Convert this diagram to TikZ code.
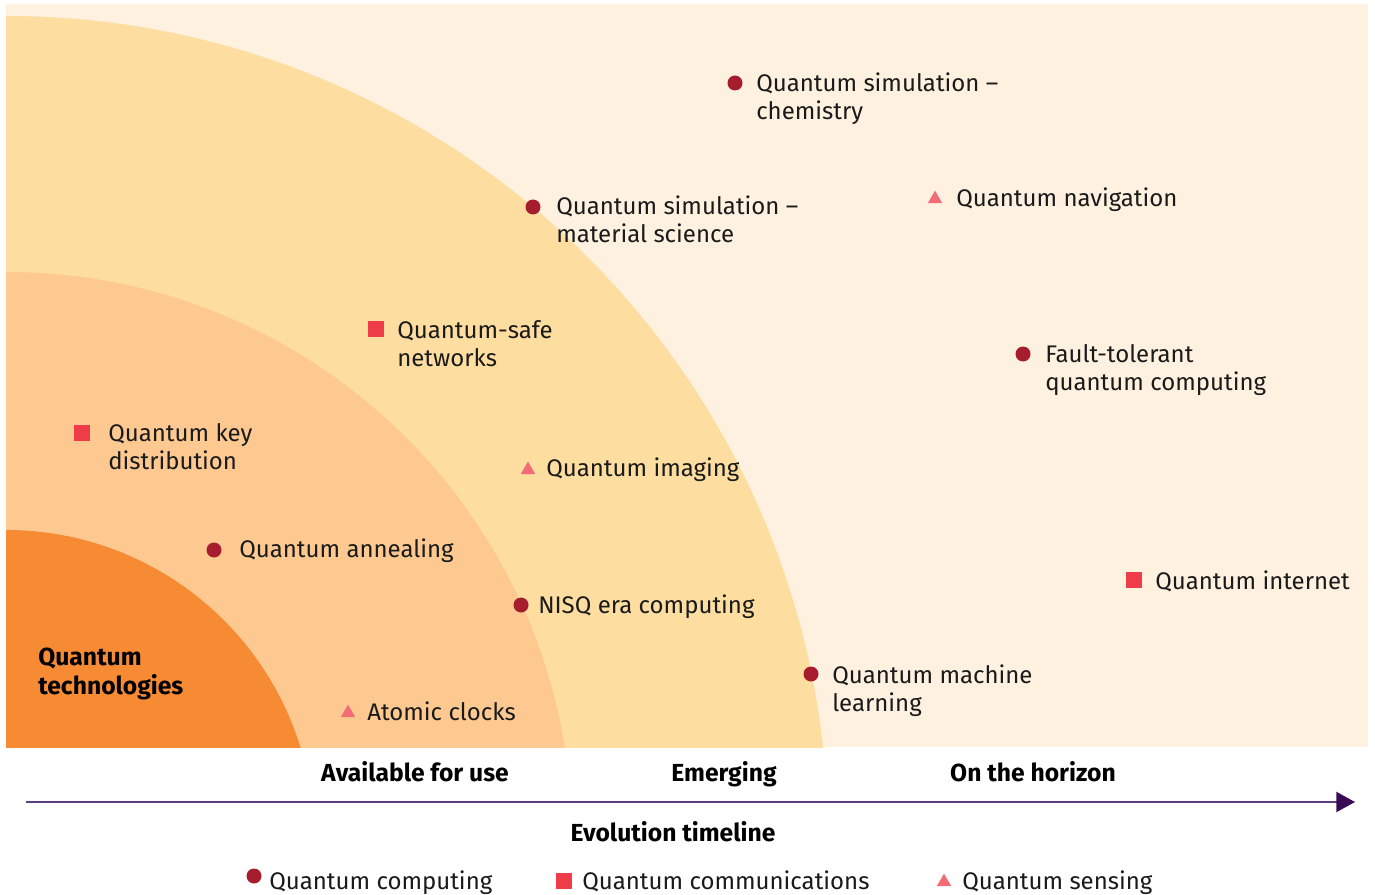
\documentclass[tikz,border=0pt]{standalone}
\usepackage{fontspec}
\setmainfont{Fira Sans}
\usetikzlibrary{arrows.meta,shapes.geometric}
\definecolor{cream}{HTML}{FEF1E0}
\definecolor{bandyellow}{HTML}{FDDDA0}
\definecolor{bandpeach}{HTML}{FDC990}
\definecolor{bandorange}{HTML}{F68B33}
\definecolor{dotred}{HTML}{A61E2D}
\definecolor{sqred}{HTML}{EE3D48}
\definecolor{tripink}{HTML}{F26B76}
\definecolor{axisline}{HTML}{5A3C85}
\definecolor{axistip}{HTML}{3A0B55}
\definecolor{ink}{HTML}{1A1A1A}
\tikzset{
  dotm/.style={circle, fill=dotred, minimum size=11.25pt, inner sep=0pt},
  sqm/.style={rectangle, fill=sqred, minimum size=11.5pt, inner sep=0pt},
  trim/.style={regular polygon, regular polygon sides=3, fill=tripink, minimum size=12.5pt, inner sep=0pt},
  lab/.style={anchor=base west, inner sep=0pt, align=left, text=ink, font=\fontsize{18}{21}\selectfont},
  boldlab/.style={anchor=base, inner sep=0pt, align=left, text=black, font=\fontsize{18.5}{21.5}\selectfont\bfseries},
}
\begin{document}
\begin{tikzpicture}[x=0.75pt,y=-0.75pt]
\useasboundingbox (0,0) rectangle (1375,895);
\fill[white] (0,0) rectangle (1375,895);
\begin{scope}
  \clip (6,4) rectangle (1368,747);
  \fill[cream] (6,4) rectangle (1368,747);
  \fill[bandyellow] (6,838) circle[radius=616.5pt];
  \fill[bandpeach] (6,838) circle[radius=424.5pt];
  \fill[bandorange] (6,838) circle[radius=231pt];
\end{scope}

% items (two-line nodes: base = baseline of the last line)
\node[dotm] (m1) at (735,83) {};
\node[lab] (t1) at (756,120) {Quantum simulation –\\chemistry};
\node[trim] (m2) at (935,199) {};
\node[lab] (t2) at (956,207) {Quantum navigation};
\node[dotm] (m3) at (533,207) {};
\node[lab] (t3) at (556,243) {Quantum simulation –\\material science};
\node[sqm] (m4) at (376,329) {};
\node[lab] (t4) at (397,366) {Quantum-safe\\networks};
\node[dotm] (m5) at (1023,354) {};
\node[lab] (t5) at (1045,390) {Fault-tolerant\\quantum computing};
\node[sqm] (m6) at (82,433) {};
\node[lab] (t6) at (108,469) {Quantum key\\distribution};
\node[trim] (m7) at (528,470) {};
\node[lab] (t7) at (546,476) {Quantum imaging};
\node[dotm] (m8) at (214,550) {};
\node[lab] (t8) at (239,557) {Quantum annealing};
\node[sqm] (m9) at (1134,580) {};
\node[lab] (t9) at (1155,589) {Quantum internet};
\node[dotm] (m10) at (521,605) {};
\node[lab] (t10) at (538,613) {NISQ era computing};
\node[dotm] (m11) at (811,674) {};
\node[lab] (t11) at (832,711) {Quantum machine\\learning};
\node[trim] (m12) at (348,713) {};
\node[lab] (t12) at (367,720) {Atomic clocks};
\node[boldlab, anchor=base west] (qt) at (38,694) {Quantum\\technologies};

% axis
\node[boldlab] (a1) at (415,781) {Available for use};
\node[boldlab] (a2) at (724,781) {Emerging};
\node[boldlab] (a3) at (1033,781) {On the horizon};
\coordinate (ax0) at (26,802);
\coordinate (ax1) at (1355,802);
\draw[axisline, line width=1.5pt, -{Triangle[length=14pt, width=15pt, color=axistip]}] (ax0) -- (ax1);
\node[boldlab] (ev) at (673,841) {Evolution timeline};

% legend
\node[dotm] (l1) at (254,876) {};
\node[lab] (lt1) at (269,889) {Quantum computing};
\node[sqm] (l2) at (564,881) {};
\node[lab] (lt2) at (582,889) {Quantum communications};
\node[trim] (l3) at (944,882) {};
\node[lab] (lt3) at (962,889) {Quantum sensing};
\end{tikzpicture}
\end{document}
